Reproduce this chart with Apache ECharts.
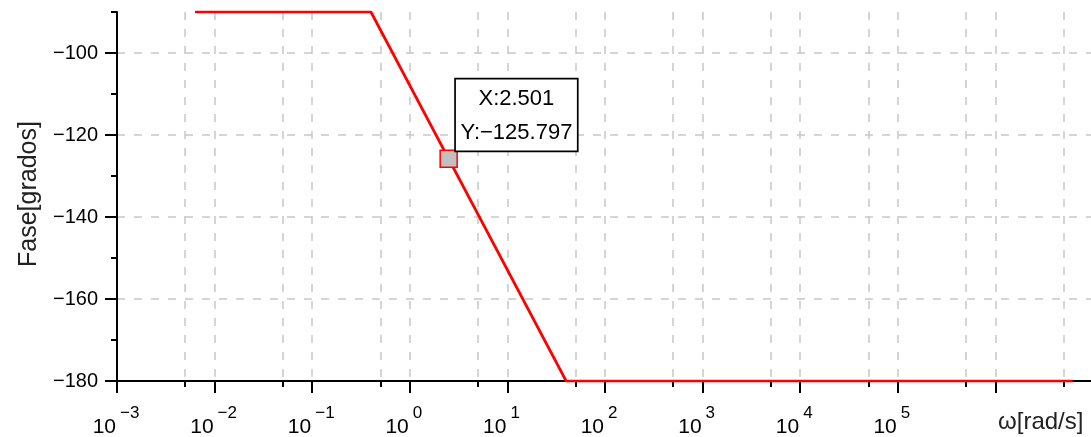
<!DOCTYPE html>
<html><head><meta charset="utf-8">
<script src="https://cdn.jsdelivr.net/npm/echarts@6/dist/echarts.min.js"></script>
<style>html,body{margin:0;padding:0;background:#fff}#c{width:1091px;height:437px}</style>
</head><body><div id="c"></div>
<script>
// ---- data ----
const omega = [0.0063, 0.4, 40, 6.2e6];
const phase = [-90, -90, -180, -180];
const cursorX = [2.501];
const cursorY = [-125.797];
const xMajorTicks = [1e-3, 1e-2, 1e-1, 1e0, 1e1, 1e2, 1e3, 1e4, 1e5, 1e6, 1e7];
const xLabelTicks = [1e-3, 1e-2, 1e-1, 1e0, 1e1, 1e2, 1e3, 1e4, 1e5];
const xMinorTicks = [5e-3, 5e-2, 5e-1, 5e0, 5e1, 5e2, 5e3, 5e4, 5e5, 5e6];
const yMajorTicks = [-180, -160, -140, -120, -100];
const yMinorTicks = [-170, -150, -130, -110, -90];
const xName = 'ω[rad/s]';
const yName = 'Fase[grados]';

const FONT = "'Liberation Sans', Arial, sans-serif";
const minus = s => String(s).replace(/-/g, '\u2212');
const gridLine = { show: true, lineStyle: { color: '#c8c8c8', width: 1.5, type: [8, 9] } };

const chart = echarts.init(document.getElementById('c'), null, { renderer: 'canvas' });
chart.setOption({
  animation: false,
  backgroundColor: '#fff',
  grid: { left: 117, right: -2, top: 12, bottom: 56, outerBoundsMode: 'none', containLabel: false },
  xAxis: [
    {
      type: 'log', logBase: 10, min: 1e-3, max: 1e7, position: 'bottom',
      axisLine: { show: true, onZero: false, lineStyle: { color: '#000', width: 2 } },
      axisTick: { show: true, length: 12, customValues: xMajorTicks, lineStyle: { color: '#000', width: 2 } },
      axisLabel: {
        show: true, margin: 36, customValues: xLabelTicks,
        formatter: () => '10',
        fontFamily: FONT, fontSize: 21, lineHeight: 20, color: '#000', align: 'right', padding: [0, 1, 0, 0]
      },
      splitLine: gridLine,
      name: xName, nameLocation: 'end', nameGap: -95,
      nameTextStyle: { fontFamily: FONT, fontSize: 24, color: '#222', align: 'left', verticalAlign: 'top', padding: [29, 0, 0, 0] }
    },
    {
      type: 'log', logBase: 10, min: 1e-3, max: 1e7, position: 'bottom',
      axisLine: { show: false },
      axisTick: { show: true, length: 6, customValues: xMinorTicks, lineStyle: { color: '#000', width: 2 } },
      axisLabel: {
        show: true, margin: 24, customValues: xLabelTicks,
        formatter: v => minus(Math.round(Math.log10(v))),
        fontFamily: FONT, fontSize: 17, lineHeight: 16, color: '#000', align: 'left', padding: [0, 0, 0, 3]
      },
      splitLine: gridLine
    }
  ],
  yAxis: [
    {
      type: 'value', min: -180, max: -90, interval: 10, position: 'left',
      axisLine: { show: true, onZero: false, lineStyle: { color: '#000', width: 2 } },
      axisTick: { show: true, length: 12, customValues: yMajorTicks, lineStyle: { color: '#000', width: 2 } },
      axisLabel: { show: true, margin: 19, customValues: yMajorTicks, formatter: v => minus(v),
        fontFamily: FONT, fontSize: 20, color: '#000' },
      splitLine: gridLine,
      name: yName, nameLocation: 'middle', nameGap: 72, nameRotate: 90,
      nameTextStyle: { fontFamily: FONT, fontSize: 25, color: '#222', padding: [0, 0, 0, 5] }
    },
    {
      type: 'value', min: -180, max: -90, interval: 10, position: 'left',
      axisLine: { show: false },
      axisTick: { show: true, length: 6, customValues: yMinorTicks, lineStyle: { color: '#000', width: 2 } },
      axisLabel: { show: false },
      splitLine: { show: false }
    }
  ],
  series: [
    {
      type: 'line', xAxisIndex: 0, yAxisIndex: 0,
      data: omega.map((w, i) => [w, phase[i]]),
      showSymbol: false, symbol: 'none', clip: false,
      lineStyle: { color: '#ff0000', width: 2.7 }, z: 3
    },
    {
      type: 'scatter', xAxisIndex: 0, yAxisIndex: 0,
      data: cursorX.map((x, i) => [x, cursorY[i]]),
      symbol: 'rect', symbolSize: 17, z: 5,
      itemStyle: { color: '#c0c0c0', borderColor: '#ff0000', borderWidth: 1.5, opacity: 1 },
      label: {
        show: true, position: [77, -70], align: 'center', verticalAlign: 'top',
        formatter: p => 'X:' + p.value[0] + '\n' + 'Y:' + minus(p.value[1]),
        fontFamily: FONT, fontSize: 22, color: '#000', lineHeight: 34,
        width: 113, padding: [2, 4, 1, 4], backgroundColor: '#fff',
        borderColor: '#000', borderWidth: 1.7
      },
      emphasis: { disabled: true }
    }
  ]
});
</script></body></html>
